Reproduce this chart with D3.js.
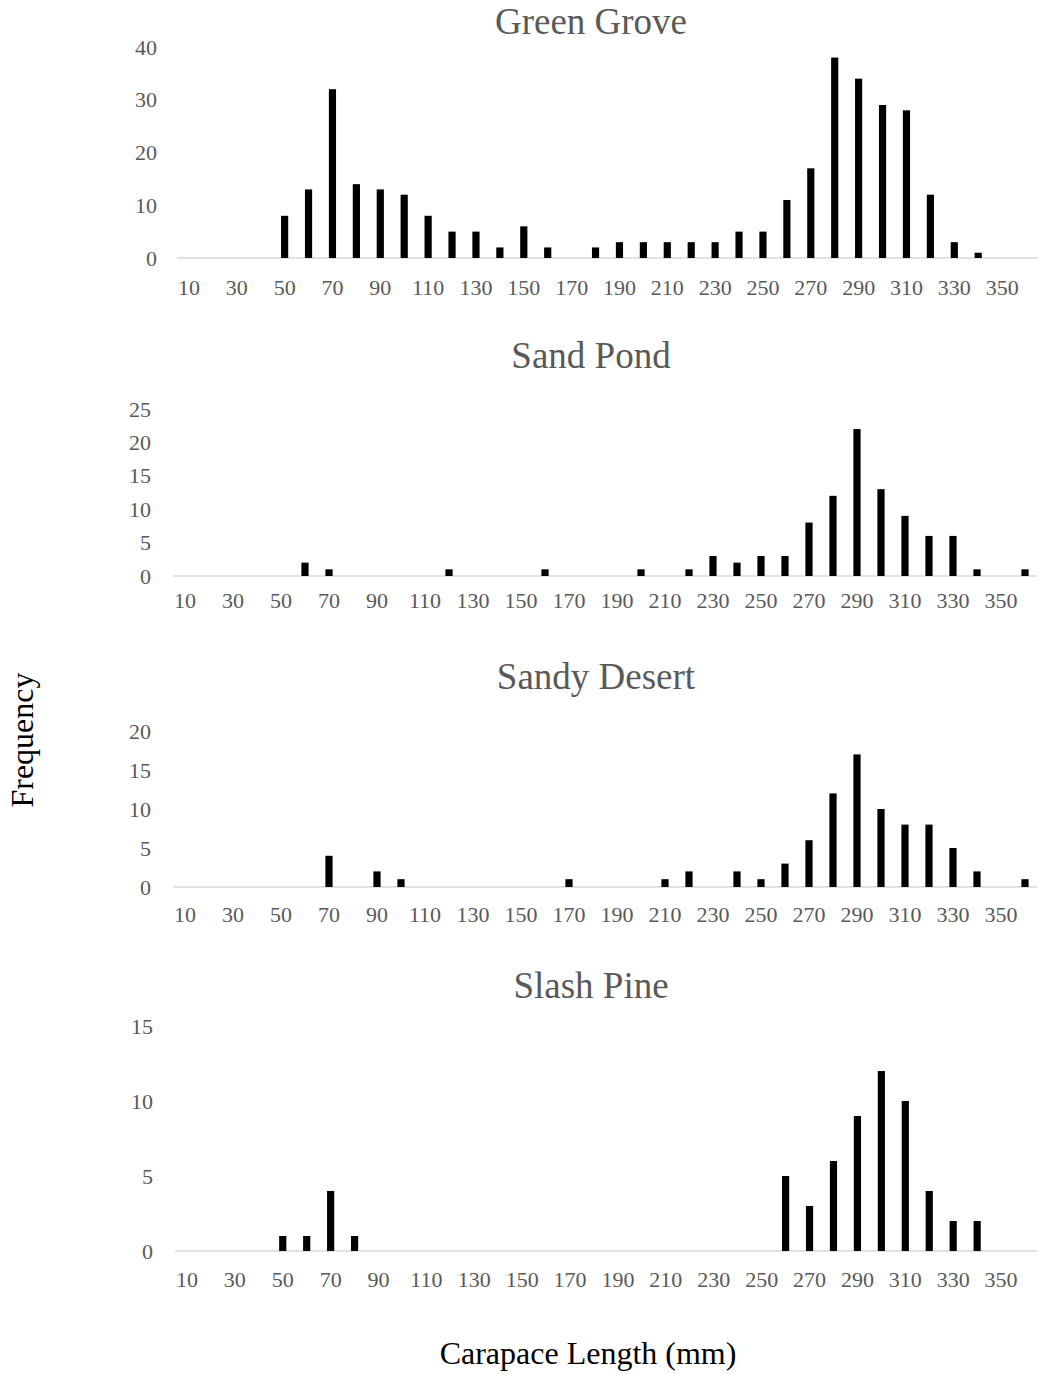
<!DOCTYPE html>
<html>
<head>
<meta charset="utf-8">
<script src="https://cdn.jsdelivr.net/npm/d3@7"></script>
<style>
  body { margin: 0; background: #fff; }
  svg { display: block; }
</style>
</head>
<body>
<div id="chart"></div>
<script>
// carapace length bins (mm)
const bins = [10, 20, 30, 40, 50, 60, 70, 80, 90, 100, 110, 120, 130, 140, 150, 160, 170, 180,
              190, 200, 210, 220, 230, 240, 250, 260, 270, 280, 290, 300, 310, 320, 330, 340, 350, 360];

const sites = ["Green Grove", "Sand Pond", "Sandy Desert", "Slash Pine"];

const greenGrove  = [0, 0, 0, 0, 8, 13, 32, 14, 13, 12, 8, 5, 5, 2, 6, 2, 0, 2,
                     3, 3, 3, 3, 3, 5, 5, 11, 17, 38, 34, 29, 28, 12, 3, 1, 0, 0];
const sandPond    = [0, 0, 0, 0, 0, 2, 1, 0, 0, 0, 0, 1, 0, 0, 0, 1, 0, 0,
                     0, 1, 0, 1, 3, 2, 3, 3, 8, 12, 22, 13, 9, 6, 6, 1, 0, 1];
const sandyDesert = [0, 0, 0, 0, 0, 0, 4, 0, 2, 1, 0, 0, 0, 0, 0, 0, 1, 0,
                     0, 0, 1, 2, 0, 2, 1, 3, 6, 12, 17, 10, 8, 8, 5, 2, 0, 1];
const slashPine   = [0, 0, 0, 0, 1, 1, 4, 1, 0, 0, 0, 0, 0, 0, 0, 0, 0, 0,
                     0, 0, 0, 0, 0, 0, 0, 5, 3, 6, 9, 12, 10, 4, 2, 2, 0, 0];

const yTicks = [
  [0, 10, 20, 30, 40],
  [0, 5, 10, 15, 20, 25],
  [0, 5, 10, 15, 20],
  [0, 5, 10, 15]
];

const series = [greenGrove, sandPond, sandyDesert, slashPine];

const panels = [
  { x0: 177, x1: 1038, base: 258, top: 47,   labelRight: 157, xLab: 21, titleX: 591, titleY: 34 },
  { x0: 173, x1: 1037, base: 576, top: 409,  labelRight: 151, xLab: 16, titleX: 591, titleY: 368 },
  { x0: 173, x1: 1037, base: 887, top: 731,  labelRight: 151, xLab: 19, titleX: 596, titleY: 689 },
  { x0: 175, x1: 1037, base: 1251, top: 1026, labelRight: 153, xLab: 20, titleX: 591, titleY: 998 }
];

const width = 1040, height = 1374;
const font = "'Liberation Serif', 'Times New Roman', serif";
const grey = "#595959";

const svg = d3.select("#chart").append("svg")
  .attr("width", width)
  .attr("height", height);

panels.forEach((p, k) => {
  const values = series[k];
  const ticks = yTicks[k];

  const x = d3.scaleBand()
    .domain(bins)
    .range([p.x0, p.x1])
    .paddingInner(0.7)
    .paddingOuter(0.35);

  const y = d3.scaleLinear()
    .domain([0, d3.max(ticks)])
    .range([p.base, p.top]);

  const g = svg.append("g");

  // baseline
  g.append("line")
    .attr("x1", p.x0).attr("x2", p.x1)
    .attr("y1", y(0)).attr("y2", y(0))
    .attr("stroke", "#d9d9d9")
    .attr("stroke-width", 1.3);

  // bars
  g.selectAll("rect")
    .data(bins.map((b, i) => ({ bin: b, v: values[i] })).filter(d => d.v > 0))
    .enter()
    .append("rect")
    .attr("x", d => x(d.bin))
    .attr("width", x.bandwidth())
    .attr("y", d => y(d.v))
    .attr("height", d => y(0) - y(d.v))
    .attr("fill", "#000");

  // x axis, every other bin labelled
  const xAxis = d3.axisBottom(x)
    .tickValues(bins.filter((b, i) => i % 2 === 0))
    .tickSize(0)
    .tickPadding(p.xLab);

  g.append("g")
    .attr("transform", `translate(0,${y(0)})`)
    .call(xAxis)
    .call(s => s.select(".domain").remove())
    .selectAll("text")
    .attr("fill", grey)
    .style("font-family", font)
    .style("font-size", "22px");

  // y axis
  const yAxis = d3.axisLeft(y)
    .tickValues(ticks)
    .tickSize(0)
    .tickPadding(p.x0 - p.labelRight);

  g.append("g")
    .attr("transform", `translate(${p.x0},0)`)
    .call(yAxis)
    .call(s => s.select(".domain").remove())
    .selectAll("text")
    .attr("fill", grey)
    .style("font-family", font)
    .style("font-size", "22px");

  // panel title
  g.append("text")
    .attr("x", p.titleX)
    .attr("y", p.titleY)
    .attr("text-anchor", "middle")
    .attr("fill", grey)
    .style("font-family", font)
    .style("font-size", "37px")
    .text(sites[k]);
});

// shared axis titles
svg.append("text")
  .attr("transform", "translate(33,740) rotate(-90)")
  .attr("text-anchor", "middle")
  .attr("fill", "#000")
  .style("font-family", font)
  .style("font-size", "32px")
  .text("Frequency");

svg.append("text")
  .attr("x", 588)
  .attr("y", 1364)
  .attr("text-anchor", "middle")
  .attr("fill", "#000")
  .style("font-family", font)
  .style("font-size", "32px")
  .text("Carapace Length (mm)");
</script>
</body>
</html>
